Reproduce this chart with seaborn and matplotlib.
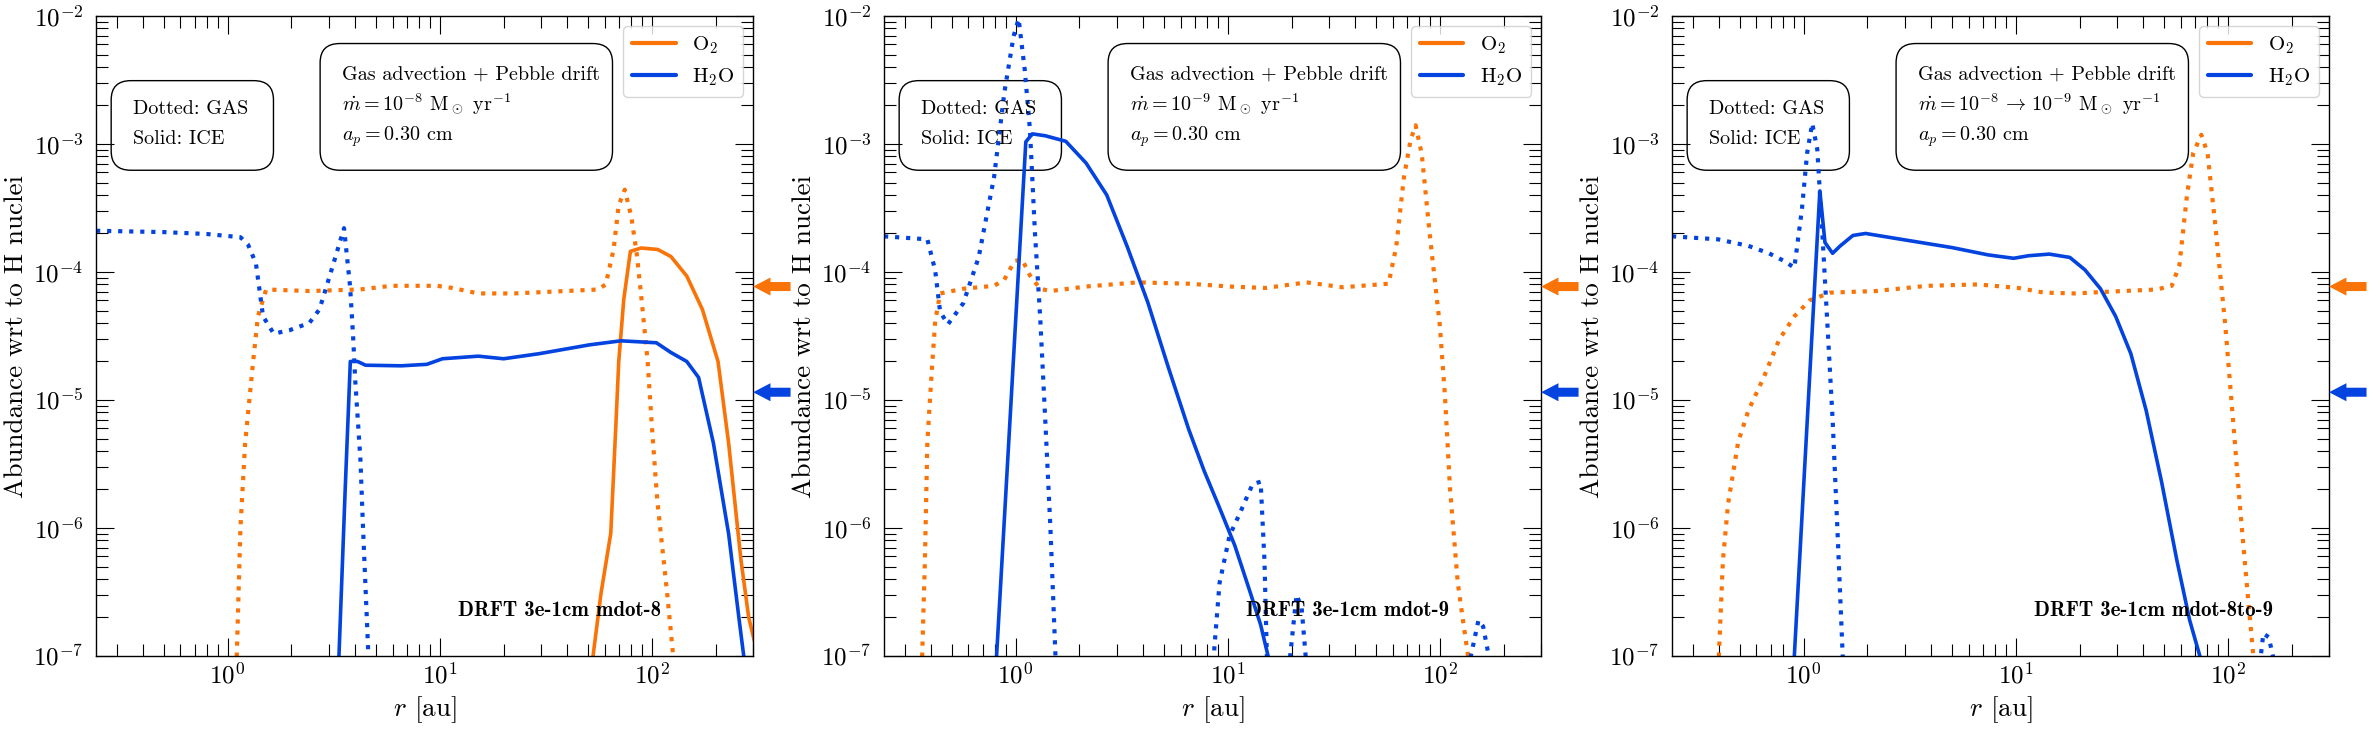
import matplotlib
matplotlib.use('Agg')
import seaborn as sns
import matplotlib.pyplot as plt
from matplotlib.lines import Line2D
from matplotlib.patches import FancyBboxPatch

ORANGE = '#f97306'
BLUE = '#0343df'

# initial abundances, marked by the arrows on the right of each panel
o2_init = 7.7e-5
h2o_init = 1.15e-5

# ---------------- panel 1 : mdot = 1e-8
p1_r_h2o_gas = [0.24, 0.5, 0.8, 1.15, 1.25, 1.36, 1.47, 1.65, 1.95, 2.43, 2.71, 3.03, 3.54,
                3.78, 3.9, 4.0, 4.23, 4.35, 4.6, 4.75]
p1_h2o_gas = [2.1e-4, 2.05e-4, 1.98e-4, 1.87e-4, 1.63e-4, 1.17e-4, 4.5e-5, 3.3e-5, 3.5e-5, 4.0e-5,
              5.1e-5, 9.3e-5, 2.2e-4, 7.7e-5, 3.3e-5, 1.4e-5, 3.4e-6, 1.0e-6, 1.1e-7, 3e-8]

p1_r_o2_gas = [1.09, 1.105, 1.15, 1.21, 1.32, 1.39, 1.52, 2.43, 4.2, 5.9, 9.7, 11.5, 15.2, 22.4,
               39, 55.8, 60.6, 66, 69.7, 74.5, 80, 84.8, 89.4, 95.5, 100, 106, 118, 126, 130]
p1_o2_gas = [3e-8, 1e-7, 1.0e-6, 4.6e-6, 2.0e-5, 4.5e-5, 7.3e-5, 7.1e-5, 7.3e-5, 7.8e-5, 7.8e-5,
             7.5e-5, 6.8e-5, 6.8e-5, 7.1e-5, 7.3e-5, 8.0e-5, 1.5e-4, 3.3e-4, 4.4e-4, 2.7e-4,
             1.4e-4, 6.1e-5, 2e-5, 6.2e-6, 1.65e-6, 3.1e-7, 1e-7, 3e-8]

p1_r_o2_ice = [51, 52.8, 57.6, 64, 67.6, 69.8, 73.7, 79.2, 89, 106.5, 123, 146, 173, 205, 230,
               263, 286, 312]
p1_o2_ice = [3e-8, 1e-7, 3.1e-7, 9.1e-7, 6.2e-6, 2e-5, 6.1e-5, 1.45e-4, 1.54e-4, 1.5e-4, 1.32e-4,
             9.3e-5, 5.1e-5, 2e-5, 4.6e-6, 5.6e-7, 2e-7, 1.1e-7]

p1_r_h2o_ice = [3.3, 3.35, 3.58, 3.79, 4.1, 4.47, 6.6, 8.7, 10.3, 15.2, 20, 29.4, 51, 71.5, 105,
                123, 146, 166, 195, 230, 258, 271, 280]
p1_h2o_ice = [3e-8, 1e-7, 1.9e-6, 2e-5, 2e-5, 1.87e-5, 1.85e-5, 1.9e-5, 2.1e-5, 2.2e-5, 2.1e-5,
              2.3e-5, 2.7e-5, 2.9e-5, 2.8e-5, 2.35e-5, 2e-5, 1.5e-5, 4.6e-6, 9e-7, 1.9e-7, 1e-7,
              3e-8]

# ---------------- panel 2 : mdot = 1e-9
p2_r_h2o_gas = [0.24, 0.384, 0.418, 0.441, 0.48, 0.567, 0.67, 0.792, 0.885, 0.978, 1.034, 1.105,
                1.169, 1.235, 1.306, 1.38, 1.46, 1.54, 1.6,
                8.5, 8.65, 9.15, 10.2, 11.4, 13.1, 14.3, 14.9, 15.3, 15.6,
                19.4, 19.7, 21.1, 22.3, 23.3, 23.7,
                138, 140, 152, 160, 170, 173]
p2_h2o_gas = [1.9e-4, 1.8e-4, 1.03e-4, 4.9e-5, 3.9e-5, 5.7e-5, 1.3e-4, 5.5e-4, 2.5e-3, 6.9e-3,
              9.5e-3, 3.8e-3, 1.3e-3, 2e-4, 4.5e-5, 7.1e-6, 1e-6, 1.07e-7, 3e-8,
              3e-8, 1.15e-7, 3.7e-7, 8.7e-7, 1.3e-6, 2.2e-6, 2.3e-6, 5.6e-7, 1e-7, 3e-8,
              3e-8, 1e-7, 3e-7, 2.4e-7, 1e-7, 3e-8,
              3e-8, 1e-7, 1.9e-7, 1.7e-7, 1e-7, 3e-8]

p2_r_o2_gas = [0.355, 0.363, 0.374, 0.384, 0.402, 0.418, 0.441, 0.567, 0.792, 0.885, 0.989, 1.075,
               1.169, 1.306, 1.46, 2.15, 3.76, 6.55, 10.2, 15.1, 23.5, 34.8, 57.3, 62.3, 67.7,
               72.8, 76.9, 82.2, 89.5, 100, 105.7, 111.7, 121.5, 128.5, 135.8, 140]
p2_o2_gas = [3e-8, 1e-7, 5.6e-7, 4.7e-6, 1.6e-5, 4.1e-5, 6.8e-5, 7.4e-5, 7.8e-5, 8.7e-5, 1.22e-4,
             1.25e-4, 9.4e-5, 7.4e-5, 7.1e-5, 7.7e-5, 8.3e-5, 8.1e-5, 7.7e-5, 7.5e-5, 8.3e-5,
             7.6e-5, 8.1e-5, 1.58e-4, 5.5e-4, 1.08e-3, 1.4e-3, 8.3e-4, 2e-4, 3.8e-5, 1.07e-5,
             2e-6, 3.7e-7, 1.9e-7, 1e-7, 3e-8]

p2_r_h2o_ice = [0.80, 0.814, 1.118, 1.2, 1.38, 1.725, 2.15, 2.69, 3.36, 4.2, 5.25, 6.55, 7.74,
                9.15, 10.8, 12.8, 14.3, 15.5, 16.2]
p2_h2o_ice = [3e-8, 1e-7, 1.04e-3, 1.2e-3, 1.16e-3, 1.05e-3, 7.1e-4, 4e-4, 1.58e-4, 5.8e-5,
              1.8e-5, 5.9e-6, 2.8e-6, 1.44e-6, 7.3e-7, 3.1e-7, 1.75e-7, 1e-7, 3e-8]

# ---------------- panel 3 : mdot = 1e-8 -> 1e-9
p3_r_h2o_gas = [0.24, 0.395, 0.55, 0.687, 0.81, 0.905, 0.983, 1.04, 1.099, 1.161, 1.227, 1.297,
                1.371, 1.449, 1.53, 1.58,
                141, 143, 147, 156, 163, 166]
p3_h2o_gas = [1.9e-4, 1.8e-4, 1.6e-4, 1.4e-4, 1.22e-4, 1.08e-4, 3.1e-4, 8.5e-4, 1.45e-3, 9.1e-4,
              2e-4, 3.8e-5, 7.1e-6, 8.7e-7, 1e-7, 3e-8,
              3e-8, 1e-7, 1.5e-7, 1.4e-7, 1e-7, 3e-8]

p3_r_o2_gas = [0.39, 0.399, 0.417, 0.441, 0.492, 0.55, 0.649, 0.767, 0.905, 1.069, 1.334, 2.19,
               3.82, 6.64, 10.3, 13.6, 19.0, 26.5, 46.1, 54.4, 59.1, 64.2, 68.7, 75.0, 80.2,
               87.1, 97.3, 105.7, 114.8, 124.8, 131.9, 136]
p3_o2_gas = [3e-8, 1e-7, 5.6e-7, 1.55e-6, 4.7e-6, 8.3e-6, 1.5e-5, 2.95e-5, 4.5e-5, 6e-5, 6.9e-5,
             7.1e-5, 7.8e-5, 8e-5, 7.5e-5, 6.9e-5, 6.8e-5, 7e-5, 7.3e-5, 7.8e-5, 1.13e-4, 4e-4,
             8.5e-4, 1.18e-3, 8.5e-4, 2.4e-4, 3.8e-5, 7.1e-6, 1.3e-6, 2.7e-7, 1e-7, 3e-8]

p3_r_h2o_ice = [0.89, 0.905, 1.194, 1.262, 1.371, 1.49, 1.71, 1.96, 2.89, 5.03, 7.42, 9.78, 11.5,
                14.4, 18.0, 21.2, 25.1, 29.6, 34.9, 41.2, 48.7, 57.5, 66.1, 73.8, 77]
p3_h2o_ice = [3e-8, 1e-7, 4.3e-4, 1.7e-4, 1.4e-4, 1.6e-4, 1.93e-4, 2e-4, 1.8e-4, 1.55e-4, 1.36e-4,
              1.28e-4, 1.34e-4, 1.38e-4, 1.3e-4, 1.04e-4, 7.4e-5, 4.5e-5, 2.3e-5, 8.3e-6, 2.3e-6,
              5.6e-7, 1.9e-7, 1e-7, 3e-8]

tags = ['DRFT 3e-1cm mdot-8', 'DRFT 3e-1cm mdot-9', 'DRFT 3e-1cm mdot-8to-9']
mdot_labels = [r'$\dot{m} = 10^{-8}$ M$_\odot$ yr$^{-1}$',
               r'$\dot{m} = 10^{-9}$ M$_\odot$ yr$^{-1}$',
               r'$\dot{m} = 10^{-8} \,\rightarrow\, 10^{-9}$ M$_\odot$ yr$^{-1}$']

curves = [
    [(p1_r_o2_gas, p1_o2_gas, ORANGE, ':'), (p1_r_h2o_gas, p1_h2o_gas, BLUE, ':'),
     (p1_r_o2_ice, p1_o2_ice, ORANGE, '-'), (p1_r_h2o_ice, p1_h2o_ice, BLUE, '-')],
    [(p2_r_o2_gas, p2_o2_gas, ORANGE, ':'), (p2_r_h2o_gas, p2_h2o_gas, BLUE, ':'),
     (p2_r_h2o_ice, p2_h2o_ice, BLUE, '-')],
    [(p3_r_o2_gas, p3_o2_gas, ORANGE, ':'), (p3_r_h2o_gas, p3_h2o_gas, BLUE, ':'),
     (p3_r_h2o_ice, p3_h2o_ice, BLUE, '-')],
]

sns.set_theme(style='ticks', rc={'axes.edgecolor': 'black', 'axes.linewidth': 1.0,
                                 'xtick.color': 'black', 'ytick.color': 'black',
                                 'text.color': 'black', 'axes.labelcolor': 'black'})
plt.rcParams['font.family'] = 'cmr10'
plt.rcParams['mathtext.fontset'] = 'cm'
plt.rcParams['axes.formatter.use_mathtext'] = True

fig = plt.figure(figsize=(23.72, 7.31), dpi=100)
lefts = [0.0405, 0.3727, 0.7049]
box_fs = 14.5

for i in range(3):
    ax = fig.add_axes([lefts[i], 0.1026, 0.277, 0.8755])
    for r, y, col, ls in curves[i]:
        sns.lineplot(x=r, y=y, ax=ax, color=col, linestyle=ls,
                     lw=3.0 if ls == ':' else 2.6, errorbar=None)
    ax.set_xscale('log')
    ax.set_yscale('log')
    ax.set_xlim(0.24, 300)
    ax.set_ylim(1e-7, 1e-2)
    ax.set_xlabel(r'$r$ [au]', fontsize=19.5)
    ax.set_ylabel('Abundance wrt to H nuclei', fontsize=19.5)
    ax.tick_params(which='both', direction='in', top=True, right=True, width=0.8)
    ax.tick_params(which='major', length=13, labelsize=18)
    ax.tick_params(which='minor', length=8.5)
    ax.tick_params(axis='y', which='both', pad=9)
    ax.tick_params(axis='x', which='both', pad=5)

    # the two text boxes
    ax.add_patch(FancyBboxPatch((0.023, 0.759), 0.247, 0.14, transform=ax.transAxes,
                                boxstyle='round,pad=0,rounding_size=0.03',
                                fill=False, ec='black', lw=1.0))
    ax.add_patch(FancyBboxPatch((0.341, 0.759), 0.445, 0.198, transform=ax.transAxes,
                                boxstyle='round,pad=0,rounding_size=0.03',
                                fill=False, ec='black', lw=1.0))
    ax.text(0.056, 0.847, 'Dotted: GAS', transform=ax.transAxes, fontsize=box_fs, va='baseline')
    ax.text(0.056, 0.800, 'Solid: ICE', transform=ax.transAxes, fontsize=box_fs, va='baseline')
    ax.text(0.3745, 0.900, 'Gas advection + Pebble drift', transform=ax.transAxes,
            fontsize=box_fs, va='baseline')
    ax.text(0.3745, 0.853, mdot_labels[i], transform=ax.transAxes, fontsize=box_fs,
            va='baseline')
    ax.text(0.3745, 0.805, r'$a_p = 0.30$ cm', transform=ax.transAxes, fontsize=box_fs,
            va='baseline')

    ax.text(0.551, 0.071, tags[i], transform=ax.transAxes, fontsize=15,
            family='cmb10', va='center')

    handles = [Line2D([], [], color=ORANGE, lw=3), Line2D([], [], color=BLUE, lw=3)]
    ax.legend(handles, [r'O$_2$', r'H$_2$O'], loc='upper right', fontsize=15,
              handlelength=2.1, frameon=True, fancybox=True, edgecolor='0.8', framealpha=0.8)

    # arrows marking the initial abundances
    for val, col in [(o2_init, ORANGE), (h2o_init, BLUE)]:
        ax.annotate('', xy=(1.0, val), xycoords=('axes fraction', 'data'),
                    xytext=(1.057, val), textcoords=('axes fraction', 'data'),
                    arrowprops=dict(facecolor=col, edgecolor='none', width=6.5,
                                    headwidth=13, headlength=12.5, shrink=0),
                    annotation_clip=False)

fig.savefig('out.png', dpi=100)
